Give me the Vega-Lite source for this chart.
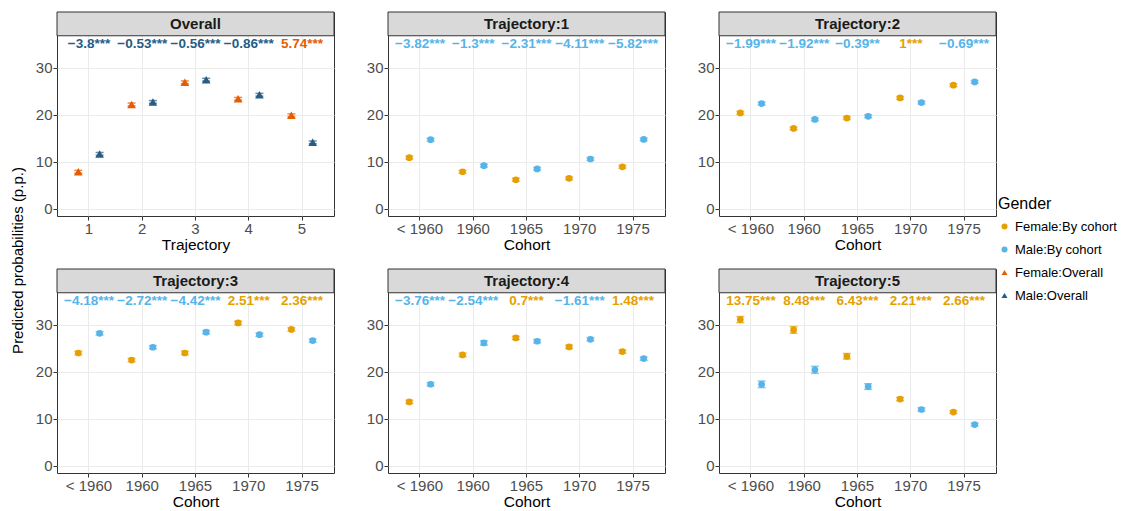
{
"$schema": "https://vega.github.io/schema/vega-lite/v6.json",
"padding": {"left": 10, "top": 11, "right": 5, "bottom": 0},
"title": {"text": "Predicted probabilities (p.p.)", "orient": "left", "anchor": "middle", "fontSize": 15, "fontWeight": "normal", "color": "#000000", "offset": 9},
"datasets": {
"strips": [{"panel": "Overall"}, {"panel": "Trajectory:1"}, {"panel": "Trajectory:2"}, {"panel": "Trajectory:3"}, {"panel": "Trajectory:4"}, {"panel": "Trajectory:5"}],
"pts": [
{"panel": "Overall", "x": "1", "sex": "Female", "Gender": "Female:Overall", "est": 7.9, "lo": 7.6, "hi": 8.2},
{"panel": "Overall", "x": "1", "sex": "Male", "Gender": "Male:Overall", "est": 11.7, "lo": 11.4, "hi": 12.0},
{"panel": "Overall", "x": "2", "sex": "Female", "Gender": "Female:Overall", "est": 22.2, "lo": 21.9, "hi": 22.5},
{"panel": "Overall", "x": "2", "sex": "Male", "Gender": "Male:Overall", "est": 22.73, "lo": 22.43, "hi": 23.03},
{"panel": "Overall", "x": "3", "sex": "Female", "Gender": "Female:Overall", "est": 26.9, "lo": 26.6, "hi": 27.2},
{"panel": "Overall", "x": "3", "sex": "Male", "Gender": "Male:Overall", "est": 27.46, "lo": 27.16, "hi": 27.76},
{"panel": "Overall", "x": "4", "sex": "Female", "Gender": "Female:Overall", "est": 23.4, "lo": 23.1, "hi": 23.7},
{"panel": "Overall", "x": "4", "sex": "Male", "Gender": "Male:Overall", "est": 24.26, "lo": 23.96, "hi": 24.56},
{"panel": "Overall", "x": "5", "sex": "Female", "Gender": "Female:Overall", "est": 19.9, "lo": 19.6, "hi": 20.2},
{"panel": "Overall", "x": "5", "sex": "Male", "Gender": "Male:Overall", "est": 14.16, "lo": 13.86, "hi": 14.46},
{"panel": "Trajectory:1", "x": "< 1960", "sex": "Female", "Gender": "Female:By cohort", "est": 10.9, "lo": 10.6, "hi": 11.2},
{"panel": "Trajectory:1", "x": "< 1960", "sex": "Male", "Gender": "Male:By cohort", "est": 14.72, "lo": 14.42, "hi": 15.02},
{"panel": "Trajectory:1", "x": "1960", "sex": "Female", "Gender": "Female:By cohort", "est": 7.9, "lo": 7.6, "hi": 8.2},
{"panel": "Trajectory:1", "x": "1960", "sex": "Male", "Gender": "Male:By cohort", "est": 9.2, "lo": 8.9, "hi": 9.5},
{"panel": "Trajectory:1", "x": "1965", "sex": "Female", "Gender": "Female:By cohort", "est": 6.2, "lo": 5.9, "hi": 6.5},
{"panel": "Trajectory:1", "x": "1965", "sex": "Male", "Gender": "Male:By cohort", "est": 8.51, "lo": 8.21, "hi": 8.81},
{"panel": "Trajectory:1", "x": "1970", "sex": "Female", "Gender": "Female:By cohort", "est": 6.5, "lo": 6.2, "hi": 6.8},
{"panel": "Trajectory:1", "x": "1970", "sex": "Male", "Gender": "Male:By cohort", "est": 10.61, "lo": 10.31, "hi": 10.91},
{"panel": "Trajectory:1", "x": "1975", "sex": "Female", "Gender": "Female:By cohort", "est": 8.95, "lo": 8.65, "hi": 9.25},
{"panel": "Trajectory:1", "x": "1975", "sex": "Male", "Gender": "Male:By cohort", "est": 14.77, "lo": 14.47, "hi": 15.07},
{"panel": "Trajectory:2", "x": "< 1960", "sex": "Female", "Gender": "Female:By cohort", "est": 20.4, "lo": 20.1, "hi": 20.7},
{"panel": "Trajectory:2", "x": "< 1960", "sex": "Male", "Gender": "Male:By cohort", "est": 22.39, "lo": 22.09, "hi": 22.69},
{"panel": "Trajectory:2", "x": "1960", "sex": "Female", "Gender": "Female:By cohort", "est": 17.1, "lo": 16.8, "hi": 17.4},
{"panel": "Trajectory:2", "x": "1960", "sex": "Male", "Gender": "Male:By cohort", "est": 19.02, "lo": 18.72, "hi": 19.32},
{"panel": "Trajectory:2", "x": "1965", "sex": "Female", "Gender": "Female:By cohort", "est": 19.3, "lo": 19.0, "hi": 19.6},
{"panel": "Trajectory:2", "x": "1965", "sex": "Male", "Gender": "Male:By cohort", "est": 19.69, "lo": 19.39, "hi": 19.99},
{"panel": "Trajectory:2", "x": "1970", "sex": "Female", "Gender": "Female:By cohort", "est": 23.6, "lo": 23.3, "hi": 23.9},
{"panel": "Trajectory:2", "x": "1970", "sex": "Male", "Gender": "Male:By cohort", "est": 22.6, "lo": 22.3, "hi": 22.9},
{"panel": "Trajectory:2", "x": "1975", "sex": "Female", "Gender": "Female:By cohort", "est": 26.3, "lo": 26.0, "hi": 26.6},
{"panel": "Trajectory:2", "x": "1975", "sex": "Male", "Gender": "Male:By cohort", "est": 26.99, "lo": 26.69, "hi": 27.29},
{"panel": "Trajectory:3", "x": "< 1960", "sex": "Female", "Gender": "Female:By cohort", "est": 24.0, "lo": 23.65, "hi": 24.35},
{"panel": "Trajectory:3", "x": "< 1960", "sex": "Male", "Gender": "Male:By cohort", "est": 28.18, "lo": 27.83, "hi": 28.53},
{"panel": "Trajectory:3", "x": "1960", "sex": "Female", "Gender": "Female:By cohort", "est": 22.5, "lo": 22.15, "hi": 22.85},
{"panel": "Trajectory:3", "x": "1960", "sex": "Male", "Gender": "Male:By cohort", "est": 25.22, "lo": 24.87, "hi": 25.57},
{"panel": "Trajectory:3", "x": "1965", "sex": "Female", "Gender": "Female:By cohort", "est": 24.0, "lo": 23.65, "hi": 24.35},
{"panel": "Trajectory:3", "x": "1965", "sex": "Male", "Gender": "Male:By cohort", "est": 28.42, "lo": 28.07, "hi": 28.77},
{"panel": "Trajectory:3", "x": "1970", "sex": "Female", "Gender": "Female:By cohort", "est": 30.4, "lo": 30.05, "hi": 30.75},
{"panel": "Trajectory:3", "x": "1970", "sex": "Male", "Gender": "Male:By cohort", "est": 27.89, "lo": 27.54, "hi": 28.24},
{"panel": "Trajectory:3", "x": "1975", "sex": "Female", "Gender": "Female:By cohort", "est": 29.0, "lo": 28.65, "hi": 29.35},
{"panel": "Trajectory:3", "x": "1975", "sex": "Male", "Gender": "Male:By cohort", "est": 26.64, "lo": 26.29, "hi": 26.99},
{"panel": "Trajectory:4", "x": "< 1960", "sex": "Female", "Gender": "Female:By cohort", "est": 13.6, "lo": 13.25, "hi": 13.95},
{"panel": "Trajectory:4", "x": "< 1960", "sex": "Male", "Gender": "Male:By cohort", "est": 17.36, "lo": 17.01, "hi": 17.71},
{"panel": "Trajectory:4", "x": "1960", "sex": "Female", "Gender": "Female:By cohort", "est": 23.6, "lo": 23.25, "hi": 23.95},
{"panel": "Trajectory:4", "x": "1960", "sex": "Male", "Gender": "Male:By cohort", "est": 26.14, "lo": 25.69, "hi": 26.59},
{"panel": "Trajectory:4", "x": "1965", "sex": "Female", "Gender": "Female:By cohort", "est": 27.2, "lo": 26.85, "hi": 27.55},
{"panel": "Trajectory:4", "x": "1965", "sex": "Male", "Gender": "Male:By cohort", "est": 26.5, "lo": 26.15, "hi": 26.85},
{"panel": "Trajectory:4", "x": "1970", "sex": "Female", "Gender": "Female:By cohort", "est": 25.3, "lo": 24.95, "hi": 25.65},
{"panel": "Trajectory:4", "x": "1970", "sex": "Male", "Gender": "Male:By cohort", "est": 26.91, "lo": 26.56, "hi": 27.26},
{"panel": "Trajectory:4", "x": "1975", "sex": "Female", "Gender": "Female:By cohort", "est": 24.3, "lo": 23.95, "hi": 24.65},
{"panel": "Trajectory:4", "x": "1975", "sex": "Male", "Gender": "Male:By cohort", "est": 22.82, "lo": 22.47, "hi": 23.17},
{"panel": "Trajectory:5", "x": "< 1960", "sex": "Female", "Gender": "Female:By cohort", "est": 31.1, "lo": 30.45, "hi": 31.75},
{"panel": "Trajectory:5", "x": "< 1960", "sex": "Male", "Gender": "Male:By cohort", "est": 17.35, "lo": 16.65, "hi": 18.05},
{"panel": "Trajectory:5", "x": "1960", "sex": "Female", "Gender": "Female:By cohort", "est": 28.9, "lo": 28.2, "hi": 29.6},
{"panel": "Trajectory:5", "x": "1960", "sex": "Male", "Gender": "Male:By cohort", "est": 20.42, "lo": 19.67, "hi": 21.17},
{"panel": "Trajectory:5", "x": "1965", "sex": "Female", "Gender": "Female:By cohort", "est": 23.3, "lo": 22.7, "hi": 23.9},
{"panel": "Trajectory:5", "x": "1965", "sex": "Male", "Gender": "Male:By cohort", "est": 16.87, "lo": 16.27, "hi": 17.47},
{"panel": "Trajectory:5", "x": "1970", "sex": "Female", "Gender": "Female:By cohort", "est": 14.2, "lo": 13.85, "hi": 14.55},
{"panel": "Trajectory:5", "x": "1970", "sex": "Male", "Gender": "Male:By cohort", "est": 11.99, "lo": 11.64, "hi": 12.34},
{"panel": "Trajectory:5", "x": "1975", "sex": "Female", "Gender": "Female:By cohort", "est": 11.45, "lo": 11.15, "hi": 11.75},
{"panel": "Trajectory:5", "x": "1975", "sex": "Male", "Gender": "Male:By cohort", "est": 8.79, "lo": 8.49, "hi": 9.09}
],
"labs": [
{"panel": "Overall", "x": "1", "label": "−3.8***", "Gender": "Male:Overall"},
{"panel": "Overall", "x": "2", "label": "−0.53***", "Gender": "Male:Overall"},
{"panel": "Overall", "x": "3", "label": "−0.56***", "Gender": "Male:Overall"},
{"panel": "Overall", "x": "4", "label": "−0.86***", "Gender": "Male:Overall"},
{"panel": "Overall", "x": "5", "label": "5.74***", "Gender": "Female:Overall"},
{"panel": "Trajectory:1", "x": "< 1960", "label": "−3.82***", "Gender": "Male:By cohort"},
{"panel": "Trajectory:1", "x": "1960", "label": "−1.3***", "Gender": "Male:By cohort"},
{"panel": "Trajectory:1", "x": "1965", "label": "−2.31***", "Gender": "Male:By cohort"},
{"panel": "Trajectory:1", "x": "1970", "label": "−4.11***", "Gender": "Male:By cohort"},
{"panel": "Trajectory:1", "x": "1975", "label": "−5.82***", "Gender": "Male:By cohort"},
{"panel": "Trajectory:2", "x": "< 1960", "label": "−1.99***", "Gender": "Male:By cohort"},
{"panel": "Trajectory:2", "x": "1960", "label": "−1.92***", "Gender": "Male:By cohort"},
{"panel": "Trajectory:2", "x": "1965", "label": "−0.39**", "Gender": "Male:By cohort"},
{"panel": "Trajectory:2", "x": "1970", "label": "1***", "Gender": "Female:By cohort"},
{"panel": "Trajectory:2", "x": "1975", "label": "−0.69***", "Gender": "Male:By cohort"},
{"panel": "Trajectory:3", "x": "< 1960", "label": "−4.18***", "Gender": "Male:By cohort"},
{"panel": "Trajectory:3", "x": "1960", "label": "−2.72***", "Gender": "Male:By cohort"},
{"panel": "Trajectory:3", "x": "1965", "label": "−4.42***", "Gender": "Male:By cohort"},
{"panel": "Trajectory:3", "x": "1970", "label": "2.51***", "Gender": "Female:By cohort"},
{"panel": "Trajectory:3", "x": "1975", "label": "2.36***", "Gender": "Female:By cohort"},
{"panel": "Trajectory:4", "x": "< 1960", "label": "−3.76***", "Gender": "Male:By cohort"},
{"panel": "Trajectory:4", "x": "1960", "label": "−2.54***", "Gender": "Male:By cohort"},
{"panel": "Trajectory:4", "x": "1965", "label": "0.7***", "Gender": "Female:By cohort"},
{"panel": "Trajectory:4", "x": "1970", "label": "−1.61***", "Gender": "Male:By cohort"},
{"panel": "Trajectory:4", "x": "1975", "label": "1.48***", "Gender": "Female:By cohort"},
{"panel": "Trajectory:5", "x": "< 1960", "label": "13.75***", "Gender": "Female:By cohort"},
{"panel": "Trajectory:5", "x": "1960", "label": "8.48***", "Gender": "Female:By cohort"},
{"panel": "Trajectory:5", "x": "1965", "label": "6.43***", "Gender": "Female:By cohort"},
{"panel": "Trajectory:5", "x": "1970", "label": "2.21***", "Gender": "Female:By cohort"},
{"panel": "Trajectory:5", "x": "1975", "label": "2.66***", "Gender": "Female:By cohort"}
]
},
"columns": 3,
"spacing": {"row": 15, "column": 30},
"concat": [
{"width": 277, "height": 204, "layer": [
 {"data": {"name": "strips"}, "transform": [{"filter": "datum.panel === 'Overall'"}], "mark": {"type": "rect", "fill": "#D9D9D9", "stroke": "#333333", "strokeWidth": 1}, "encoding": {"y": {"datum": 36.8, "type": "quantitative", "scale": {"domain": [-1.5, 41.85], "nice": false, "zero": false}, "axis": {"title": null, "grid": true, "values": [0, 5, 10, 15, 20, 25, 30, 35], "labelExpr": "datum.value % 10 === 0 ? datum.label : ''", "tickOpacity": {"condition": {"test": "datum.value % 10 === 0", "value": 1}, "value": 0}, "gridWidth": {"condition": {"test": "datum.value % 10 === 0", "value": 1}, "value": 0.5}}}, "y2": {"datum": 41.85}}},
 {"data": {"name": "strips"}, "transform": [{"filter": "datum.panel === 'Overall'"}], "mark": {"type": "text", "fontSize": 15, "fontWeight": "bold", "color": "#1A1A1A"}, "encoding": {"y": {"datum": 39.3, "type": "quantitative", "scale": {"domain": [-1.5, 41.85], "nice": false, "zero": false}}, "text": {"field": "panel"}}},
 {"data": {"name": "pts"}, "transform": [{"filter": "datum.panel === 'Overall'"}], "mark": {"type": "rule", "strokeWidth": 1.5}, "encoding": {"x": {"field": "x", "type": "nominal", "scale": {"domain": ["1", "2", "3", "4", "5"], "paddingInner": 0, "paddingOuter": 0.1}, "axis": {"title": "Trajectory", "grid": true, "labelAngle": 0}}, "xOffset": {"field": "sex", "type": "nominal", "scale": {"type": "point", "padding": 0.75, "domain": ["Female", "Male"]}}, "y": {"field": "lo", "type": "quantitative", "scale": {"domain": [-1.5, 41.85], "nice": false, "zero": false}}, "y2": {"field": "hi"}, "stroke": {"field": "Gender", "type": "nominal", "legend": null, "scale": {"domain": ["Male:Overall", "Female:Overall", "Male:By cohort", "Female:By cohort"], "range": ["#265C85", "#E65C00", "#56B4E9", "#E69F00"]}}}},
 {"data": {"name": "pts"}, "transform": [{"filter": "datum.panel === 'Overall'"}, {"fold": ["lo", "hi"], "as": ["bound", "val"]}], "mark": {"type": "tick", "size": 8, "thickness": 1.5}, "encoding": {"x": {"field": "x", "type": "nominal", "scale": {"domain": ["1", "2", "3", "4", "5"], "paddingInner": 0, "paddingOuter": 0.1}, "axis": {"title": "Trajectory", "grid": true, "labelAngle": 0}}, "xOffset": {"field": "sex", "type": "nominal", "scale": {"type": "point", "padding": 0.75, "domain": ["Female", "Male"]}}, "y": {"field": "val", "type": "quantitative", "scale": {"domain": [-1.5, 41.85], "nice": false, "zero": false}}, "fill": {"field": "Gender", "type": "nominal", "legend": null, "scale": {"domain": ["Male:By cohort", "Female:By cohort", "Male:Overall", "Female:Overall"], "range": ["#56B4E9", "#E69F00", "#265C85", "#E65C00"]}}}},
 {"data": {"name": "pts"}, "transform": [{"filter": "datum.panel === 'Overall'"}], "mark": {"type": "point", "filled": true, "opacity": 1, "size": 75}, "encoding": {"x": {"field": "x", "type": "nominal", "scale": {"domain": ["1", "2", "3", "4", "5"], "paddingInner": 0, "paddingOuter": 0.1}, "axis": {"title": "Trajectory", "grid": true, "labelAngle": 0}}, "xOffset": {"field": "sex", "type": "nominal", "scale": {"type": "point", "padding": 0.75, "domain": ["Female", "Male"]}}, "y": {"field": "est", "type": "quantitative", "scale": {"domain": [-1.5, 41.85], "nice": false, "zero": false}}, "color": {"field": "Gender", "type": "nominal", "title": "Gender", "scale": {"domain": ["Female:By cohort", "Male:By cohort", "Female:Overall", "Male:Overall"], "range": ["#E69F00", "#56B4E9", "#E65C00", "#265C85"]}}, "shape": {"field": "Gender", "type": "nominal", "title": "Gender", "scale": {"domain": ["Female:By cohort", "Male:By cohort", "Female:Overall", "Male:Overall"], "range": ["circle", "circle", "triangle-up", "triangle-up"]}}}},
 {"data": {"name": "labs"}, "transform": [{"filter": "datum.panel === 'Overall'"}], "mark": {"type": "text", "fontSize": 13.5, "fontWeight": "bold"}, "encoding": {"x": {"field": "x", "type": "nominal", "scale": {"domain": ["1", "2", "3", "4", "5"], "paddingInner": 0, "paddingOuter": 0.1}, "axis": {"title": "Trajectory", "grid": true, "labelAngle": 0}}, "y": {"datum": 35, "type": "quantitative", "scale": {"domain": [-1.5, 41.85], "nice": false, "zero": false}}, "text": {"field": "label"}, "fill": {"field": "Gender", "type": "nominal", "legend": null, "scale": {"domain": ["Male:By cohort", "Female:By cohort", "Male:Overall", "Female:Overall"], "range": ["#56B4E9", "#E69F00", "#265C85", "#E65C00"]}}}}
]},
{"width": 277, "height": 204, "layer": [
 {"data": {"name": "strips"}, "transform": [{"filter": "datum.panel === 'Trajectory:1'"}], "mark": {"type": "rect", "fill": "#D9D9D9", "stroke": "#333333", "strokeWidth": 1}, "encoding": {"y": {"datum": 36.8, "type": "quantitative", "scale": {"domain": [-1.5, 41.85], "nice": false, "zero": false}, "axis": {"title": null, "grid": true, "values": [0, 5, 10, 15, 20, 25, 30, 35], "labelExpr": "datum.value % 10 === 0 ? datum.label : ''", "tickOpacity": {"condition": {"test": "datum.value % 10 === 0", "value": 1}, "value": 0}, "gridWidth": {"condition": {"test": "datum.value % 10 === 0", "value": 1}, "value": 0.5}}}, "y2": {"datum": 41.85}}},
 {"data": {"name": "strips"}, "transform": [{"filter": "datum.panel === 'Trajectory:1'"}], "mark": {"type": "text", "fontSize": 15, "fontWeight": "bold", "color": "#1A1A1A"}, "encoding": {"y": {"datum": 39.3, "type": "quantitative", "scale": {"domain": [-1.5, 41.85], "nice": false, "zero": false}}, "text": {"field": "panel"}}},
 {"data": {"name": "pts"}, "transform": [{"filter": "datum.panel === 'Trajectory:1'"}], "mark": {"type": "rule", "strokeWidth": 1.5}, "encoding": {"x": {"field": "x", "type": "nominal", "scale": {"domain": ["< 1960", "1960", "1965", "1970", "1975"], "paddingInner": 0, "paddingOuter": 0.1}, "axis": {"title": "Cohort", "grid": true, "labelAngle": 0}}, "xOffset": {"field": "sex", "type": "nominal", "scale": {"type": "point", "padding": 0.75, "domain": ["Female", "Male"]}}, "y": {"field": "lo", "type": "quantitative", "scale": {"domain": [-1.5, 41.85], "nice": false, "zero": false}}, "y2": {"field": "hi"}, "stroke": {"field": "Gender", "type": "nominal", "legend": null, "scale": {"domain": ["Male:Overall", "Female:Overall", "Male:By cohort", "Female:By cohort"], "range": ["#265C85", "#E65C00", "#56B4E9", "#E69F00"]}}}},
 {"data": {"name": "pts"}, "transform": [{"filter": "datum.panel === 'Trajectory:1'"}, {"fold": ["lo", "hi"], "as": ["bound", "val"]}], "mark": {"type": "tick", "size": 8, "thickness": 1.5}, "encoding": {"x": {"field": "x", "type": "nominal", "scale": {"domain": ["< 1960", "1960", "1965", "1970", "1975"], "paddingInner": 0, "paddingOuter": 0.1}, "axis": {"title": "Cohort", "grid": true, "labelAngle": 0}}, "xOffset": {"field": "sex", "type": "nominal", "scale": {"type": "point", "padding": 0.75, "domain": ["Female", "Male"]}}, "y": {"field": "val", "type": "quantitative", "scale": {"domain": [-1.5, 41.85], "nice": false, "zero": false}}, "fill": {"field": "Gender", "type": "nominal", "legend": null, "scale": {"domain": ["Male:By cohort", "Female:By cohort", "Male:Overall", "Female:Overall"], "range": ["#56B4E9", "#E69F00", "#265C85", "#E65C00"]}}}},
 {"data": {"name": "pts"}, "transform": [{"filter": "datum.panel === 'Trajectory:1'"}], "mark": {"type": "point", "filled": true, "opacity": 1, "size": 45}, "encoding": {"x": {"field": "x", "type": "nominal", "scale": {"domain": ["< 1960", "1960", "1965", "1970", "1975"], "paddingInner": 0, "paddingOuter": 0.1}, "axis": {"title": "Cohort", "grid": true, "labelAngle": 0}}, "xOffset": {"field": "sex", "type": "nominal", "scale": {"type": "point", "padding": 0.75, "domain": ["Female", "Male"]}}, "y": {"field": "est", "type": "quantitative", "scale": {"domain": [-1.5, 41.85], "nice": false, "zero": false}}, "color": {"field": "Gender", "type": "nominal", "title": "Gender", "scale": {"domain": ["Female:By cohort", "Male:By cohort", "Female:Overall", "Male:Overall"], "range": ["#E69F00", "#56B4E9", "#E65C00", "#265C85"]}}, "shape": {"field": "Gender", "type": "nominal", "title": "Gender", "scale": {"domain": ["Female:By cohort", "Male:By cohort", "Female:Overall", "Male:Overall"], "range": ["circle", "circle", "triangle-up", "triangle-up"]}}}},
 {"data": {"name": "labs"}, "transform": [{"filter": "datum.panel === 'Trajectory:1'"}], "mark": {"type": "text", "fontSize": 13.5, "fontWeight": "bold"}, "encoding": {"x": {"field": "x", "type": "nominal", "scale": {"domain": ["< 1960", "1960", "1965", "1970", "1975"], "paddingInner": 0, "paddingOuter": 0.1}, "axis": {"title": "Cohort", "grid": true, "labelAngle": 0}}, "y": {"datum": 35, "type": "quantitative", "scale": {"domain": [-1.5, 41.85], "nice": false, "zero": false}}, "text": {"field": "label"}, "fill": {"field": "Gender", "type": "nominal", "legend": null, "scale": {"domain": ["Male:By cohort", "Female:By cohort", "Male:Overall", "Female:Overall"], "range": ["#56B4E9", "#E69F00", "#265C85", "#E65C00"]}}}}
]},
{"width": 277, "height": 204, "layer": [
 {"data": {"name": "strips"}, "transform": [{"filter": "datum.panel === 'Trajectory:2'"}], "mark": {"type": "rect", "fill": "#D9D9D9", "stroke": "#333333", "strokeWidth": 1}, "encoding": {"y": {"datum": 36.8, "type": "quantitative", "scale": {"domain": [-1.5, 41.85], "nice": false, "zero": false}, "axis": {"title": null, "grid": true, "values": [0, 5, 10, 15, 20, 25, 30, 35], "labelExpr": "datum.value % 10 === 0 ? datum.label : ''", "tickOpacity": {"condition": {"test": "datum.value % 10 === 0", "value": 1}, "value": 0}, "gridWidth": {"condition": {"test": "datum.value % 10 === 0", "value": 1}, "value": 0.5}}}, "y2": {"datum": 41.85}}},
 {"data": {"name": "strips"}, "transform": [{"filter": "datum.panel === 'Trajectory:2'"}], "mark": {"type": "text", "fontSize": 15, "fontWeight": "bold", "color": "#1A1A1A"}, "encoding": {"y": {"datum": 39.3, "type": "quantitative", "scale": {"domain": [-1.5, 41.85], "nice": false, "zero": false}}, "text": {"field": "panel"}}},
 {"data": {"name": "pts"}, "transform": [{"filter": "datum.panel === 'Trajectory:2'"}], "mark": {"type": "rule", "strokeWidth": 1.5}, "encoding": {"x": {"field": "x", "type": "nominal", "scale": {"domain": ["< 1960", "1960", "1965", "1970", "1975"], "paddingInner": 0, "paddingOuter": 0.1}, "axis": {"title": "Cohort", "grid": true, "labelAngle": 0}}, "xOffset": {"field": "sex", "type": "nominal", "scale": {"type": "point", "padding": 0.75, "domain": ["Female", "Male"]}}, "y": {"field": "lo", "type": "quantitative", "scale": {"domain": [-1.5, 41.85], "nice": false, "zero": false}}, "y2": {"field": "hi"}, "stroke": {"field": "Gender", "type": "nominal", "legend": null, "scale": {"domain": ["Male:Overall", "Female:Overall", "Male:By cohort", "Female:By cohort"], "range": ["#265C85", "#E65C00", "#56B4E9", "#E69F00"]}}}},
 {"data": {"name": "pts"}, "transform": [{"filter": "datum.panel === 'Trajectory:2'"}, {"fold": ["lo", "hi"], "as": ["bound", "val"]}], "mark": {"type": "tick", "size": 8, "thickness": 1.5}, "encoding": {"x": {"field": "x", "type": "nominal", "scale": {"domain": ["< 1960", "1960", "1965", "1970", "1975"], "paddingInner": 0, "paddingOuter": 0.1}, "axis": {"title": "Cohort", "grid": true, "labelAngle": 0}}, "xOffset": {"field": "sex", "type": "nominal", "scale": {"type": "point", "padding": 0.75, "domain": ["Female", "Male"]}}, "y": {"field": "val", "type": "quantitative", "scale": {"domain": [-1.5, 41.85], "nice": false, "zero": false}}, "fill": {"field": "Gender", "type": "nominal", "legend": null, "scale": {"domain": ["Male:By cohort", "Female:By cohort", "Male:Overall", "Female:Overall"], "range": ["#56B4E9", "#E69F00", "#265C85", "#E65C00"]}}}},
 {"data": {"name": "pts"}, "transform": [{"filter": "datum.panel === 'Trajectory:2'"}], "mark": {"type": "point", "filled": true, "opacity": 1, "size": 45}, "encoding": {"x": {"field": "x", "type": "nominal", "scale": {"domain": ["< 1960", "1960", "1965", "1970", "1975"], "paddingInner": 0, "paddingOuter": 0.1}, "axis": {"title": "Cohort", "grid": true, "labelAngle": 0}}, "xOffset": {"field": "sex", "type": "nominal", "scale": {"type": "point", "padding": 0.75, "domain": ["Female", "Male"]}}, "y": {"field": "est", "type": "quantitative", "scale": {"domain": [-1.5, 41.85], "nice": false, "zero": false}}, "color": {"field": "Gender", "type": "nominal", "title": "Gender", "scale": {"domain": ["Female:By cohort", "Male:By cohort", "Female:Overall", "Male:Overall"], "range": ["#E69F00", "#56B4E9", "#E65C00", "#265C85"]}}, "shape": {"field": "Gender", "type": "nominal", "title": "Gender", "scale": {"domain": ["Female:By cohort", "Male:By cohort", "Female:Overall", "Male:Overall"], "range": ["circle", "circle", "triangle-up", "triangle-up"]}}}},
 {"data": {"name": "labs"}, "transform": [{"filter": "datum.panel === 'Trajectory:2'"}], "mark": {"type": "text", "fontSize": 13.5, "fontWeight": "bold"}, "encoding": {"x": {"field": "x", "type": "nominal", "scale": {"domain": ["< 1960", "1960", "1965", "1970", "1975"], "paddingInner": 0, "paddingOuter": 0.1}, "axis": {"title": "Cohort", "grid": true, "labelAngle": 0}}, "y": {"datum": 35, "type": "quantitative", "scale": {"domain": [-1.5, 41.85], "nice": false, "zero": false}}, "text": {"field": "label"}, "fill": {"field": "Gender", "type": "nominal", "legend": null, "scale": {"domain": ["Male:By cohort", "Female:By cohort", "Male:Overall", "Female:Overall"], "range": ["#56B4E9", "#E69F00", "#265C85", "#E65C00"]}}}}
]},
{"width": 277, "height": 204, "layer": [
 {"data": {"name": "strips"}, "transform": [{"filter": "datum.panel === 'Trajectory:3'"}], "mark": {"type": "rect", "fill": "#D9D9D9", "stroke": "#333333", "strokeWidth": 1}, "encoding": {"y": {"datum": 36.8, "type": "quantitative", "scale": {"domain": [-1.5, 41.85], "nice": false, "zero": false}, "axis": {"title": null, "grid": true, "values": [0, 5, 10, 15, 20, 25, 30, 35], "labelExpr": "datum.value % 10 === 0 ? datum.label : ''", "tickOpacity": {"condition": {"test": "datum.value % 10 === 0", "value": 1}, "value": 0}, "gridWidth": {"condition": {"test": "datum.value % 10 === 0", "value": 1}, "value": 0.5}}}, "y2": {"datum": 41.85}}},
 {"data": {"name": "strips"}, "transform": [{"filter": "datum.panel === 'Trajectory:3'"}], "mark": {"type": "text", "fontSize": 15, "fontWeight": "bold", "color": "#1A1A1A"}, "encoding": {"y": {"datum": 39.3, "type": "quantitative", "scale": {"domain": [-1.5, 41.85], "nice": false, "zero": false}}, "text": {"field": "panel"}}},
 {"data": {"name": "pts"}, "transform": [{"filter": "datum.panel === 'Trajectory:3'"}], "mark": {"type": "rule", "strokeWidth": 1.5}, "encoding": {"x": {"field": "x", "type": "nominal", "scale": {"domain": ["< 1960", "1960", "1965", "1970", "1975"], "paddingInner": 0, "paddingOuter": 0.1}, "axis": {"title": "Cohort", "grid": true, "labelAngle": 0}}, "xOffset": {"field": "sex", "type": "nominal", "scale": {"type": "point", "padding": 0.75, "domain": ["Female", "Male"]}}, "y": {"field": "lo", "type": "quantitative", "scale": {"domain": [-1.5, 41.85], "nice": false, "zero": false}}, "y2": {"field": "hi"}, "stroke": {"field": "Gender", "type": "nominal", "legend": null, "scale": {"domain": ["Male:Overall", "Female:Overall", "Male:By cohort", "Female:By cohort"], "range": ["#265C85", "#E65C00", "#56B4E9", "#E69F00"]}}}},
 {"data": {"name": "pts"}, "transform": [{"filter": "datum.panel === 'Trajectory:3'"}, {"fold": ["lo", "hi"], "as": ["bound", "val"]}], "mark": {"type": "tick", "size": 8, "thickness": 1.5}, "encoding": {"x": {"field": "x", "type": "nominal", "scale": {"domain": ["< 1960", "1960", "1965", "1970", "1975"], "paddingInner": 0, "paddingOuter": 0.1}, "axis": {"title": "Cohort", "grid": true, "labelAngle": 0}}, "xOffset": {"field": "sex", "type": "nominal", "scale": {"type": "point", "padding": 0.75, "domain": ["Female", "Male"]}}, "y": {"field": "val", "type": "quantitative", "scale": {"domain": [-1.5, 41.85], "nice": false, "zero": false}}, "fill": {"field": "Gender", "type": "nominal", "legend": null, "scale": {"domain": ["Male:By cohort", "Female:By cohort", "Male:Overall", "Female:Overall"], "range": ["#56B4E9", "#E69F00", "#265C85", "#E65C00"]}}}},
 {"data": {"name": "pts"}, "transform": [{"filter": "datum.panel === 'Trajectory:3'"}], "mark": {"type": "point", "filled": true, "opacity": 1, "size": 45}, "encoding": {"x": {"field": "x", "type": "nominal", "scale": {"domain": ["< 1960", "1960", "1965", "1970", "1975"], "paddingInner": 0, "paddingOuter": 0.1}, "axis": {"title": "Cohort", "grid": true, "labelAngle": 0}}, "xOffset": {"field": "sex", "type": "nominal", "scale": {"type": "point", "padding": 0.75, "domain": ["Female", "Male"]}}, "y": {"field": "est", "type": "quantitative", "scale": {"domain": [-1.5, 41.85], "nice": false, "zero": false}}, "color": {"field": "Gender", "type": "nominal", "title": "Gender", "scale": {"domain": ["Female:By cohort", "Male:By cohort", "Female:Overall", "Male:Overall"], "range": ["#E69F00", "#56B4E9", "#E65C00", "#265C85"]}}, "shape": {"field": "Gender", "type": "nominal", "title": "Gender", "scale": {"domain": ["Female:By cohort", "Male:By cohort", "Female:Overall", "Male:Overall"], "range": ["circle", "circle", "triangle-up", "triangle-up"]}}}},
 {"data": {"name": "labs"}, "transform": [{"filter": "datum.panel === 'Trajectory:3'"}], "mark": {"type": "text", "fontSize": 13.5, "fontWeight": "bold"}, "encoding": {"x": {"field": "x", "type": "nominal", "scale": {"domain": ["< 1960", "1960", "1965", "1970", "1975"], "paddingInner": 0, "paddingOuter": 0.1}, "axis": {"title": "Cohort", "grid": true, "labelAngle": 0}}, "y": {"datum": 35, "type": "quantitative", "scale": {"domain": [-1.5, 41.85], "nice": false, "zero": false}}, "text": {"field": "label"}, "fill": {"field": "Gender", "type": "nominal", "legend": null, "scale": {"domain": ["Male:By cohort", "Female:By cohort", "Male:Overall", "Female:Overall"], "range": ["#56B4E9", "#E69F00", "#265C85", "#E65C00"]}}}}
]},
{"width": 277, "height": 204, "layer": [
 {"data": {"name": "strips"}, "transform": [{"filter": "datum.panel === 'Trajectory:4'"}], "mark": {"type": "rect", "fill": "#D9D9D9", "stroke": "#333333", "strokeWidth": 1}, "encoding": {"y": {"datum": 36.8, "type": "quantitative", "scale": {"domain": [-1.5, 41.85], "nice": false, "zero": false}, "axis": {"title": null, "grid": true, "values": [0, 5, 10, 15, 20, 25, 30, 35], "labelExpr": "datum.value % 10 === 0 ? datum.label : ''", "tickOpacity": {"condition": {"test": "datum.value % 10 === 0", "value": 1}, "value": 0}, "gridWidth": {"condition": {"test": "datum.value % 10 === 0", "value": 1}, "value": 0.5}}}, "y2": {"datum": 41.85}}},
 {"data": {"name": "strips"}, "transform": [{"filter": "datum.panel === 'Trajectory:4'"}], "mark": {"type": "text", "fontSize": 15, "fontWeight": "bold", "color": "#1A1A1A"}, "encoding": {"y": {"datum": 39.3, "type": "quantitative", "scale": {"domain": [-1.5, 41.85], "nice": false, "zero": false}}, "text": {"field": "panel"}}},
 {"data": {"name": "pts"}, "transform": [{"filter": "datum.panel === 'Trajectory:4'"}], "mark": {"type": "rule", "strokeWidth": 1.5}, "encoding": {"x": {"field": "x", "type": "nominal", "scale": {"domain": ["< 1960", "1960", "1965", "1970", "1975"], "paddingInner": 0, "paddingOuter": 0.1}, "axis": {"title": "Cohort", "grid": true, "labelAngle": 0}}, "xOffset": {"field": "sex", "type": "nominal", "scale": {"type": "point", "padding": 0.75, "domain": ["Female", "Male"]}}, "y": {"field": "lo", "type": "quantitative", "scale": {"domain": [-1.5, 41.85], "nice": false, "zero": false}}, "y2": {"field": "hi"}, "stroke": {"field": "Gender", "type": "nominal", "legend": null, "scale": {"domain": ["Male:Overall", "Female:Overall", "Male:By cohort", "Female:By cohort"], "range": ["#265C85", "#E65C00", "#56B4E9", "#E69F00"]}}}},
 {"data": {"name": "pts"}, "transform": [{"filter": "datum.panel === 'Trajectory:4'"}, {"fold": ["lo", "hi"], "as": ["bound", "val"]}], "mark": {"type": "tick", "size": 8, "thickness": 1.5}, "encoding": {"x": {"field": "x", "type": "nominal", "scale": {"domain": ["< 1960", "1960", "1965", "1970", "1975"], "paddingInner": 0, "paddingOuter": 0.1}, "axis": {"title": "Cohort", "grid": true, "labelAngle": 0}}, "xOffset": {"field": "sex", "type": "nominal", "scale": {"type": "point", "padding": 0.75, "domain": ["Female", "Male"]}}, "y": {"field": "val", "type": "quantitative", "scale": {"domain": [-1.5, 41.85], "nice": false, "zero": false}}, "fill": {"field": "Gender", "type": "nominal", "legend": null, "scale": {"domain": ["Male:By cohort", "Female:By cohort", "Male:Overall", "Female:Overall"], "range": ["#56B4E9", "#E69F00", "#265C85", "#E65C00"]}}}},
 {"data": {"name": "pts"}, "transform": [{"filter": "datum.panel === 'Trajectory:4'"}], "mark": {"type": "point", "filled": true, "opacity": 1, "size": 45}, "encoding": {"x": {"field": "x", "type": "nominal", "scale": {"domain": ["< 1960", "1960", "1965", "1970", "1975"], "paddingInner": 0, "paddingOuter": 0.1}, "axis": {"title": "Cohort", "grid": true, "labelAngle": 0}}, "xOffset": {"field": "sex", "type": "nominal", "scale": {"type": "point", "padding": 0.75, "domain": ["Female", "Male"]}}, "y": {"field": "est", "type": "quantitative", "scale": {"domain": [-1.5, 41.85], "nice": false, "zero": false}}, "color": {"field": "Gender", "type": "nominal", "title": "Gender", "scale": {"domain": ["Female:By cohort", "Male:By cohort", "Female:Overall", "Male:Overall"], "range": ["#E69F00", "#56B4E9", "#E65C00", "#265C85"]}}, "shape": {"field": "Gender", "type": "nominal", "title": "Gender", "scale": {"domain": ["Female:By cohort", "Male:By cohort", "Female:Overall", "Male:Overall"], "range": ["circle", "circle", "triangle-up", "triangle-up"]}}}},
 {"data": {"name": "labs"}, "transform": [{"filter": "datum.panel === 'Trajectory:4'"}], "mark": {"type": "text", "fontSize": 13.5, "fontWeight": "bold"}, "encoding": {"x": {"field": "x", "type": "nominal", "scale": {"domain": ["< 1960", "1960", "1965", "1970", "1975"], "paddingInner": 0, "paddingOuter": 0.1}, "axis": {"title": "Cohort", "grid": true, "labelAngle": 0}}, "y": {"datum": 35, "type": "quantitative", "scale": {"domain": [-1.5, 41.85], "nice": false, "zero": false}}, "text": {"field": "label"}, "fill": {"field": "Gender", "type": "nominal", "legend": null, "scale": {"domain": ["Male:By cohort", "Female:By cohort", "Male:Overall", "Female:Overall"], "range": ["#56B4E9", "#E69F00", "#265C85", "#E65C00"]}}}}
]},
{"width": 277, "height": 204, "layer": [
 {"data": {"name": "strips"}, "transform": [{"filter": "datum.panel === 'Trajectory:5'"}], "mark": {"type": "rect", "fill": "#D9D9D9", "stroke": "#333333", "strokeWidth": 1}, "encoding": {"y": {"datum": 36.8, "type": "quantitative", "scale": {"domain": [-1.5, 41.85], "nice": false, "zero": false}, "axis": {"title": null, "grid": true, "values": [0, 5, 10, 15, 20, 25, 30, 35], "labelExpr": "datum.value % 10 === 0 ? datum.label : ''", "tickOpacity": {"condition": {"test": "datum.value % 10 === 0", "value": 1}, "value": 0}, "gridWidth": {"condition": {"test": "datum.value % 10 === 0", "value": 1}, "value": 0.5}}}, "y2": {"datum": 41.85}}},
 {"data": {"name": "strips"}, "transform": [{"filter": "datum.panel === 'Trajectory:5'"}], "mark": {"type": "text", "fontSize": 15, "fontWeight": "bold", "color": "#1A1A1A"}, "encoding": {"y": {"datum": 39.3, "type": "quantitative", "scale": {"domain": [-1.5, 41.85], "nice": false, "zero": false}}, "text": {"field": "panel"}}},
 {"data": {"name": "pts"}, "transform": [{"filter": "datum.panel === 'Trajectory:5'"}], "mark": {"type": "rule", "strokeWidth": 1.5}, "encoding": {"x": {"field": "x", "type": "nominal", "scale": {"domain": ["< 1960", "1960", "1965", "1970", "1975"], "paddingInner": 0, "paddingOuter": 0.1}, "axis": {"title": "Cohort", "grid": true, "labelAngle": 0}}, "xOffset": {"field": "sex", "type": "nominal", "scale": {"type": "point", "padding": 0.75, "domain": ["Female", "Male"]}}, "y": {"field": "lo", "type": "quantitative", "scale": {"domain": [-1.5, 41.85], "nice": false, "zero": false}}, "y2": {"field": "hi"}, "stroke": {"field": "Gender", "type": "nominal", "legend": null, "scale": {"domain": ["Male:Overall", "Female:Overall", "Male:By cohort", "Female:By cohort"], "range": ["#265C85", "#E65C00", "#56B4E9", "#E69F00"]}}}},
 {"data": {"name": "pts"}, "transform": [{"filter": "datum.panel === 'Trajectory:5'"}, {"fold": ["lo", "hi"], "as": ["bound", "val"]}], "mark": {"type": "tick", "size": 8, "thickness": 1.5}, "encoding": {"x": {"field": "x", "type": "nominal", "scale": {"domain": ["< 1960", "1960", "1965", "1970", "1975"], "paddingInner": 0, "paddingOuter": 0.1}, "axis": {"title": "Cohort", "grid": true, "labelAngle": 0}}, "xOffset": {"field": "sex", "type": "nominal", "scale": {"type": "point", "padding": 0.75, "domain": ["Female", "Male"]}}, "y": {"field": "val", "type": "quantitative", "scale": {"domain": [-1.5, 41.85], "nice": false, "zero": false}}, "fill": {"field": "Gender", "type": "nominal", "legend": null, "scale": {"domain": ["Male:By cohort", "Female:By cohort", "Male:Overall", "Female:Overall"], "range": ["#56B4E9", "#E69F00", "#265C85", "#E65C00"]}}}},
 {"data": {"name": "pts"}, "transform": [{"filter": "datum.panel === 'Trajectory:5'"}], "mark": {"type": "point", "filled": true, "opacity": 1, "size": 45}, "encoding": {"x": {"field": "x", "type": "nominal", "scale": {"domain": ["< 1960", "1960", "1965", "1970", "1975"], "paddingInner": 0, "paddingOuter": 0.1}, "axis": {"title": "Cohort", "grid": true, "labelAngle": 0}}, "xOffset": {"field": "sex", "type": "nominal", "scale": {"type": "point", "padding": 0.75, "domain": ["Female", "Male"]}}, "y": {"field": "est", "type": "quantitative", "scale": {"domain": [-1.5, 41.85], "nice": false, "zero": false}}, "color": {"field": "Gender", "type": "nominal", "title": "Gender", "scale": {"domain": ["Female:By cohort", "Male:By cohort", "Female:Overall", "Male:Overall"], "range": ["#E69F00", "#56B4E9", "#E65C00", "#265C85"]}}, "shape": {"field": "Gender", "type": "nominal", "title": "Gender", "scale": {"domain": ["Female:By cohort", "Male:By cohort", "Female:Overall", "Male:Overall"], "range": ["circle", "circle", "triangle-up", "triangle-up"]}}}},
 {"data": {"name": "labs"}, "transform": [{"filter": "datum.panel === 'Trajectory:5'"}], "mark": {"type": "text", "fontSize": 13.5, "fontWeight": "bold"}, "encoding": {"x": {"field": "x", "type": "nominal", "scale": {"domain": ["< 1960", "1960", "1965", "1970", "1975"], "paddingInner": 0, "paddingOuter": 0.1}, "axis": {"title": "Cohort", "grid": true, "labelAngle": 0}}, "y": {"datum": 35, "type": "quantitative", "scale": {"domain": [-1.5, 41.85], "nice": false, "zero": false}}, "text": {"field": "label"}, "fill": {"field": "Gender", "type": "nominal", "legend": null, "scale": {"domain": ["Male:By cohort", "Female:By cohort", "Male:Overall", "Female:Overall"], "range": ["#56B4E9", "#E69F00", "#265C85", "#E65C00"]}}}}
]}
],
"config": {
 "font": "Liberation Sans",
 "view": {"stroke": "#333333", "strokeWidth": 1},
 "axis": {"gridColor": "#EBEBEB", "domain": false, "tickColor": "#333333", "tickSize": 4, "tickWidth": 1, "labelColor": "#4D4D4D", "labelFontSize": 15, "labelPadding": 1, "titleFontSize": 15.5, "titleFontWeight": "normal", "titleColor": "#000000", "titlePadding": 1},
 "legend": {"orient": "none", "legendX": 941, "legendY": 184, "titleFontSize": 16, "titleFontWeight": "normal", "titleColor": "#000000", "titlePadding": 8, "labelFontSize": 13, "labelColor": "#000000", "symbolSize": 36, "rowPadding": 9, "labelOffset": 4}
}
}
